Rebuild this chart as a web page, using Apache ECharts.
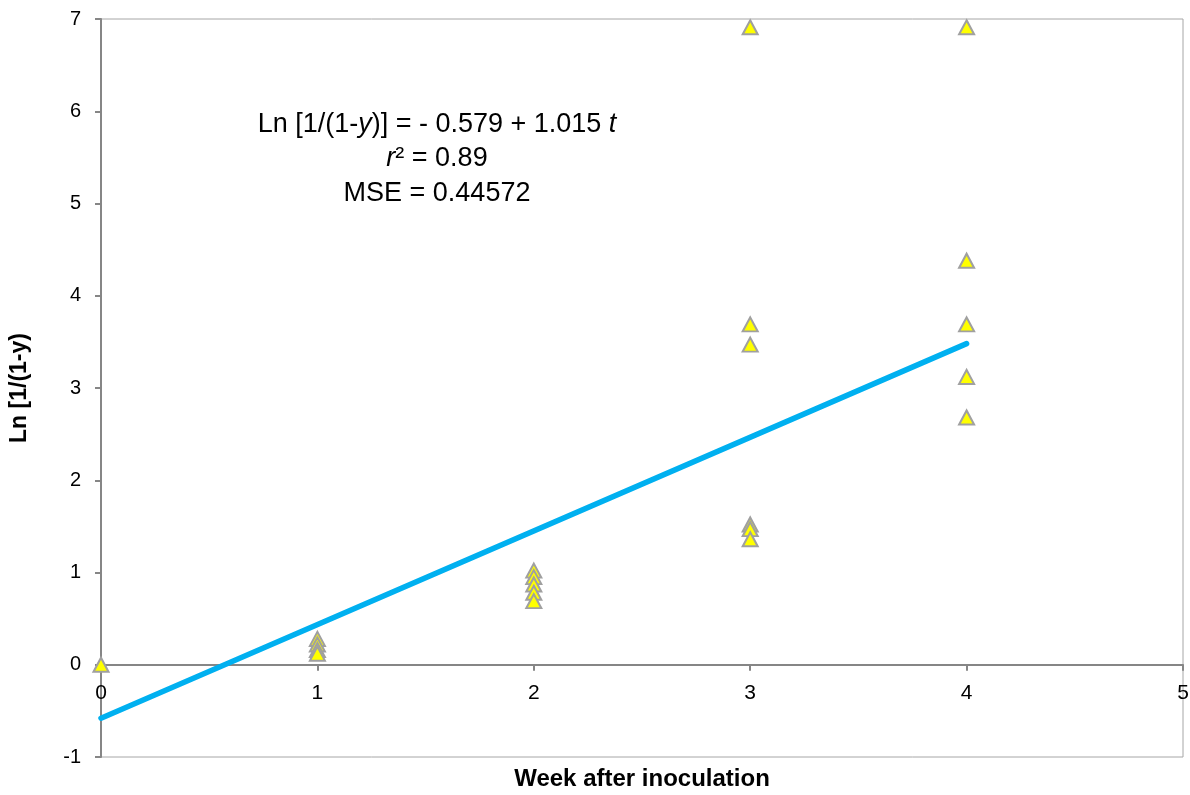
<!DOCTYPE html>
<html>
<head>
<meta charset="utf-8">
<script src="https://cdn.jsdelivr.net/npm/echarts@6/dist/echarts.min.js"></script>
<style>html,body{margin:0;padding:0;background:#fff;}#c{width:1190px;height:795px;}</style>
</head>
<body>
<div id="c"></div>
<script>
// Observed points (week, Ln[1/(1-y)])
var weeks0 = [0];
var vals0 = [0];
var weeks1 = [1, 1, 1, 1];
var vals1 = [0.28, 0.22, 0.16, 0.12];
var weeks2 = [2, 2, 2, 2, 2];
var vals2 = [1.02, 0.95, 0.87, 0.78, 0.69];
var weeks3 = [3, 3, 3, 3, 3, 3];
var vals3 = [6.91, 3.69, 3.47, 1.52, 1.47, 1.36];
var weeks4 = [4, 4, 4, 4, 4];
var vals4 = [6.91, 4.38, 3.69, 3.12, 2.68];
// Fitted regression line endpoints
var fitX = [0, 4];
var fitY = [-0.579, 3.481];
// Axis ticks
var xTicks = [0, 1, 2, 3, 4, 5];
var yTicks = [-1, 0, 1, 2, 3, 4, 5, 6, 7];

var pts = [];
[[weeks0, vals0], [weeks1, vals1], [weeks2, vals2], [weeks3, vals3], [weeks4, vals4]].forEach(function (p) {
  for (var i = 0; i < p[0].length; i++) pts.push([p[0][i], p[1][i]]);
});
var fit = fitX.map(function (x, i) { return [x, fitY[i]]; });

var chart = echarts.init(document.getElementById('c'));
var font = 'Liberation Sans, Arial, sans-serif';
var gridTop = 19, gridBottom = 38, H = 795;
var plotH = H - gridTop - gridBottom;
// shift the x axis up so that it sits on y = 0
var zeroOffset = -plotH * (0 - yTicks[0]) / (yTicks[yTicks.length - 1] - yTicks[0]);
chart.setOption({
  animation: false,
  backgroundColor: '#fff',
  grid: { left: 101, right: 7, top: gridTop, bottom: gridBottom, containLabel: false, outerBoundsMode: 'none',
          show: true, borderColor: '#a6a6a6', borderWidth: 1 },
  xAxis: {
    type: 'value', min: xTicks[0], max: xTicks[xTicks.length - 1], interval: 1,
    position: 'bottom', offset: zeroOffset,
    name: 'Week after inoculation', nameLocation: 'middle', nameGap: 103,
    nameTextStyle: { fontFamily: font, fontWeight: 'bold', fontSize: 24, color: '#000' },
    axisLine: { onZero: false, lineStyle: { color: '#868686', width: 2 } },
    axisTick: { show: true, length: 6, lineStyle: { color: '#868686', width: 2 } },
    axisLabel: { fontFamily: font, fontSize: 21, color: '#000', margin: 18 },
    splitLine: { show: false }
  },
  yAxis: {
    type: 'value', min: yTicks[0], max: yTicks[yTicks.length - 1], interval: 1,
    name: 'Ln [1/(1-y)', nameLocation: 'middle', nameGap: 70, nameRotate: 90,
    nameTextStyle: { fontFamily: font, fontWeight: 'bold', fontSize: 23, color: '#000' },
    axisLine: { onZero: false, lineStyle: { color: '#868686', width: 2 } },
    axisTick: { show: true, length: 6, lineStyle: { color: '#868686', width: 2 } },
    axisLabel: { fontFamily: font, fontSize: 20, color: '#000', margin: 20 },
    splitLine: { show: false }
  },
  series: [
    {
      type: 'line', data: fit, symbol: 'none', z: 2,
      lineStyle: { color: '#00B0F0', width: 5.5, cap: 'round' }
    },
    {
      type: 'scatter', data: pts, symbol: 'triangle', symbolSize: [15, 14], z: 3,
      itemStyle: { color: '#FFFF00', borderColor: '#A0A0A0', borderWidth: 2, opacity: 1 }
    }
  ],
  graphic: [
    {
      type: 'text', x: 437, y: 107, z: 10,
      style: {
        textAlign: 'center', fontFamily: font, fontSize: 27, fill: '#000', lineHeight: 34.5,
        text: 'Ln [1/(1-{i|y})] = - 0.579 + 1.015 {i|t}\n{i|r}² = 0.89\nMSE = 0.44572',
        rich: { i: { fontStyle: 'italic', fontFamily: font, fontSize: 27, lineHeight: 34.5 } }
      }
    }
  ]
});
</script>
</body>
</html>
